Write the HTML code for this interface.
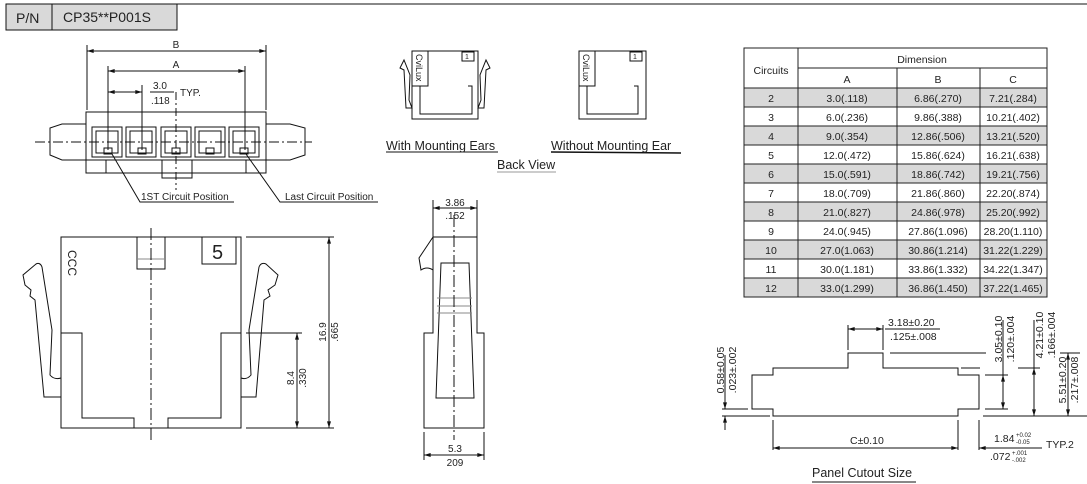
<!DOCTYPE html>
<html><head><meta charset="utf-8"><style>
html,body{margin:0;padding:0;background:#fff;}
svg{display:block;font-family:"Liberation Sans","DejaVu Sans",sans-serif;}
text{fill:#222;}
</style></head><body>
<svg width="1087" height="484" viewBox="0 0 1087 484" xmlns="http://www.w3.org/2000/svg">
<defs>
<marker id="a" viewBox="0 0 10 6" refX="10" refY="3" markerWidth="8" markerHeight="4" orient="auto-start-reverse" markerUnits="userSpaceOnUse"><path d="M0 0 L10 3 L0 6 Z" fill="#111"/></marker>
</defs>
<g stroke="#111" stroke-width="1" fill="none">
<rect x="6" y="4" width="46" height="26" fill="#d9d9d9"/>
<rect x="52" y="4" width="125" height="26" fill="#d9d9d9"/>
<line x1="177" y1="4" x2="1087" y2="4"/>
</g>
<text x="16" y="23" font-size="14">P/N</text>
<text x="63" y="22" font-size="14">CP35**P001S</text>

<!-- top view -->
<g stroke="#111" stroke-width="1" fill="none">
<line x1="87" y1="45" x2="87" y2="110"/><line x1="266" y1="45" x2="266" y2="110"/>
<line x1="87" y1="51" x2="266" y2="51" marker-start="url(#a)" marker-end="url(#a)"/>
<line x1="108" y1="66" x2="108" y2="150"/><line x1="245" y1="66" x2="245" y2="150"/>
<line x1="108" y1="71" x2="245" y2="71" marker-start="url(#a)" marker-end="url(#a)"/>
<line x1="142" y1="85" x2="142" y2="150"/>
<line x1="108" y1="92" x2="142" y2="92" marker-start="url(#a)" marker-end="url(#a)"/>
<line x1="150" y1="92" x2="174" y2="92"/>
<path d="M86 112 H266 V173 H86 Z"/>
<line x1="86" y1="160" x2="266" y2="160"/>
<line x1="106" y1="160" x2="106" y2="173"/><line x1="246" y1="160" x2="246" y2="173"/>
<rect x="162" y="160" width="30" height="18"/>
<rect x="92" y="127" width="30" height="30"/><rect x="96" y="131" width="22" height="22"/>
<rect x="126" y="127" width="30" height="30"/><rect x="130" y="131" width="22" height="22"/>
<rect x="161" y="127" width="30" height="30"/><rect x="165" y="131" width="22" height="22"/>
<rect x="195" y="127" width="30" height="30"/><rect x="199" y="131" width="22" height="22"/>
<rect x="229" y="127" width="30" height="30"/><rect x="233" y="131" width="22" height="22"/>
<rect x="104" y="148" width="8" height="6"/><rect x="138" y="148" width="8" height="6"/><rect x="172" y="148" width="8" height="6"/><rect x="206" y="148" width="8" height="6"/><rect x="240" y="148" width="8" height="6"/>
<path d="M86 124 H62 L50 128 V155 L62 160 H86"/>
<path d="M266 124 H290 L305 128 V155 L290 160 H266"/>
<line x1="35" y1="142" x2="312" y2="142" stroke-dasharray="10,3,2,3"/>
<line x1="176" y1="92" x2="176" y2="190" stroke-dasharray="8,3,2,3"/>
<path d="M112 154 L140 202 H234"/>
<path d="M246 154 L280 202 H378"/>
</g>
<text x="176" y="48" font-size="10" text-anchor="middle">B</text>
<text x="176" y="68" font-size="10" text-anchor="middle">A</text>
<text x="153" y="89" font-size="10">3.0</text>
<text x="151" y="104" font-size="10">.118</text>
<text x="180" y="96" font-size="10">TYP.</text>
<text x="141" y="200" font-size="10">1ST Circuit Position</text>
<text x="285" y="200" font-size="10">Last Circuit Position</text>

<!-- front view -->
<g stroke="#111" stroke-width="1" fill="none">
<path d="M61 237 H241 V428 H61 Z"/>
<path d="M61 333 H82 V418 H134 V428 M168 428 V418 H221 V333 H241"/>
<rect x="137" y="237" width="28" height="32"/>
<line x1="137" y1="259" x2="165" y2="259" stroke="#888"/>
<path d="M202 237 V264 H236 V237"/>
<line x1="151" y1="228" x2="151" y2="440" stroke-dasharray="12,3,2,3"/>
<path d="M61 397 H44 L35 300 L30 296 L31 290 L25 285 L23 275 L36 264 Q40 262 42 267 L52 330 L50 375 Q54 380 61 378"/>
<path d="M241 397 H256 L264 300 L270 296 L268 290 L275 285 L278 275 L266 264 Q261 262 259 267 L249 330 L251 375 Q247 380 241 378"/>
<line x1="246" y1="237" x2="334" y2="237"/><line x1="246" y1="428" x2="334" y2="428"/>
<line x1="246" y1="333" x2="302" y2="333"/>
<line x1="329" y1="237" x2="329" y2="428" marker-start="url(#a)" marker-end="url(#a)"/>
<line x1="297" y1="333" x2="297" y2="428" marker-start="url(#a)" marker-end="url(#a)"/>
</g>
<text x="0" y="0" font-size="12" transform="translate(68,250) rotate(90)">CCC</text>
<text x="212" y="259" font-size="20">5</text>
<text font-size="10" text-anchor="middle" transform="translate(326,332) rotate(-90)">16.9</text>
<text font-size="10" text-anchor="middle" transform="translate(338,332) rotate(-90)">.665</text>
<text font-size="10" text-anchor="middle" transform="translate(294,378) rotate(-90)">8.4</text>
<text font-size="10" text-anchor="middle" transform="translate(306,378) rotate(-90)">.330</text>

<!-- side view -->
<g stroke="#111" stroke-width="1" fill="none">
<path d="M433 237 H477 V333 H484 V428 H424 V333 H433 Z"/>
<path d="M433 237 L419 258 L421 270 Q427 266 433 270"/>
<path d="M441 263 H469 L474 398 H436 Z"/>
<line x1="437" y1="298" x2="472" y2="298" stroke="#888"/><line x1="437" y1="306" x2="472" y2="306" stroke="#888"/><line x1="437" y1="313" x2="472" y2="313" stroke="#888"/>
<line x1="433" y1="200" x2="433" y2="237"/><line x1="477" y1="200" x2="477" y2="237"/>
<line x1="433" y1="208" x2="477" y2="208" marker-start="url(#a)" marker-end="url(#a)"/>
<line x1="424" y1="432" x2="424" y2="460"/><line x1="484" y1="432" x2="484" y2="460"/>
<line x1="424" y1="455" x2="484" y2="455" marker-start="url(#a)" marker-end="url(#a)"/>
<line x1="454" y1="215" x2="454" y2="440" stroke-dasharray="12,3,2,3"/>
</g>
<text x="455" y="206" font-size="10" text-anchor="middle">3.86</text>
<text x="455" y="219" font-size="10" text-anchor="middle">.152</text>
<text x="455" y="452" font-size="10" text-anchor="middle">5.3</text>
<text x="455" y="466" font-size="10" text-anchor="middle">209</text>

<!-- back views -->
<g stroke="#111" stroke-width="1" fill="none">
<rect x="412" y="51" width="66" height="68"/>
<rect x="412" y="51" width="16" height="35"/>
<path d="M420 86 V114 H472 V86 H468"/>
<rect x="462" y="52" width="12" height="9"/>
<path d="M412 108 H406 L404 70 L400 68 L404 60 L410 75 L409 100 Z"/>
<path d="M478 108 H484 L486 70 L490 68 L486 60 L480 75 L481 100 Z"/>
<rect x="579" y="51" width="67" height="68"/>
<rect x="579" y="51" width="16" height="35"/>
<path d="M587 86 V114 H638 V86 H634"/>
<rect x="630" y="52" width="12" height="9"/>
<line x1="386" y1="152" x2="498" y2="152"/>
<line x1="551" y1="152" x2="681" y2="153" stroke-width="1.5"/>
<line x1="497" y1="172" x2="556" y2="172" stroke="#999"/>
</g>
<text font-size="9" transform="translate(416,54) rotate(90)">CviLux</text>
<text font-size="9" transform="translate(583,54) rotate(90)">CviLux</text>
<text x="465" y="59" font-size="7">1</text>
<text x="633" y="59" font-size="7">1</text>
<text x="386" y="150" font-size="12.5">With Mounting Ears</text>
<text x="551" y="150" font-size="12.5">Without Mounting Ear</text>
<text x="497" y="169" font-size="12.5">Back View</text>

<!-- table -->
<g fill="#d9d9d9">
<rect x="744" y="88" width="303" height="19"/>
<rect x="744" y="126" width="303" height="19"/>
<rect x="744" y="164" width="303" height="19"/>
<rect x="744" y="202" width="303" height="19"/>
<rect x="744" y="240" width="303" height="19"/>
<rect x="744" y="278" width="303" height="19"/>
</g>
<g stroke="#222" stroke-width="1" fill="none">
<rect x="744" y="48" width="303" height="249"/>
<line x1="798" y1="48" x2="798" y2="297"/>
<line x1="798" y1="68" x2="1047" y2="68"/>
<line x1="897" y1="68" x2="897" y2="297"/>
<line x1="980" y1="68" x2="980" y2="297"/>
<line x1="744" y1="88" x2="1047" y2="88"/>
<line x1="744" y1="107" x2="1047" y2="107"/><line x1="744" y1="126" x2="1047" y2="126"/>
<line x1="744" y1="145" x2="1047" y2="145"/><line x1="744" y1="164" x2="1047" y2="164"/>
<line x1="744" y1="183" x2="1047" y2="183"/><line x1="744" y1="202" x2="1047" y2="202"/>
<line x1="744" y1="221" x2="1047" y2="221"/><line x1="744" y1="240" x2="1047" y2="240"/>
<line x1="744" y1="259" x2="1047" y2="259"/><line x1="744" y1="278" x2="1047" y2="278"/>
</g>
<g font-size="10.5" text-anchor="middle">
<text x="771" y="74">Circuits</text>
<text x="922" y="63">Dimension</text>
<text x="847" y="83">A</text><text x="938" y="83">B</text><text x="1013" y="83">C</text>
<text x="771" y="102">2</text><text x="847" y="102">3.0(.118)</text><text x="938" y="102">6.86(.270)</text><text x="1013" y="102">7.21(.284)</text>
<text x="771" y="121">3</text><text x="847" y="121">6.0(.236)</text><text x="938" y="121">9.86(.388)</text><text x="1013" y="121">10.21(.402)</text>
<text x="771" y="140">4</text><text x="847" y="140">9.0(.354)</text><text x="938" y="140">12.86(.506)</text><text x="1013" y="140">13.21(.520)</text>
<text x="771" y="159">5</text><text x="847" y="159">12.0(.472)</text><text x="938" y="159">15.86(.624)</text><text x="1013" y="159">16.21(.638)</text>
<text x="771" y="178">6</text><text x="847" y="178">15.0(.591)</text><text x="938" y="178">18.86(.742)</text><text x="1013" y="178">19.21(.756)</text>
<text x="771" y="197">7</text><text x="847" y="197">18.0(.709)</text><text x="938" y="197">21.86(.860)</text><text x="1013" y="197">22.20(.874)</text>
<text x="771" y="216">8</text><text x="847" y="216">21.0(.827)</text><text x="938" y="216">24.86(.978)</text><text x="1013" y="216">25.20(.992)</text>
<text x="771" y="235">9</text><text x="847" y="235">24.0(.945)</text><text x="938" y="235">27.86(1.096)</text><text x="1013" y="235">28.20(1.110)</text>
<text x="771" y="254">10</text><text x="847" y="254">27.0(1.063)</text><text x="938" y="254">30.86(1.214)</text><text x="1013" y="254">31.22(1.229)</text>
<text x="771" y="273">11</text><text x="847" y="273">30.0(1.181)</text><text x="938" y="273">33.86(1.332)</text><text x="1013" y="273">34.22(1.347)</text>
<text x="771" y="292">12</text><text x="847" y="292">33.0(1.299)</text><text x="938" y="292">36.86(1.450)</text><text x="1013" y="292">37.22(1.465)</text>
</g>

<!-- panel cutout -->
<g stroke="#111" stroke-width="1" fill="none">
<path d="M752 409 V375 H773 V368 H848 V353 H883 V368 H958 V375 H979 V409 H958 V416 H773 V409 Z"/>
<line x1="848" y1="325" x2="848" y2="350"/><line x1="883" y1="325" x2="883" y2="350"/>
<line x1="848" y1="329" x2="883" y2="329" marker-start="url(#a)" marker-end="url(#a)"/><line x1="885" y1="329" x2="940" y2="329"/>
<line x1="890" y1="353" x2="986" y2="353"/>
<line x1="961" y1="368" x2="980" y2="368"/><line x1="985" y1="375" x2="1008" y2="375"/><line x1="985" y1="409" x2="1008" y2="409"/>
<line x1="1003" y1="320" x2="1003" y2="409"/>
<line x1="1003" y1="375" x2="1003" y2="409" marker-start="url(#a)" marker-end="url(#a)"/>
<line x1="1018" y1="368" x2="1040" y2="368"/><line x1="1034" y1="320" x2="1034" y2="416"/>
<line x1="1034" y1="368" x2="1034" y2="416" marker-start="url(#a)" marker-end="url(#a)"/>
<line x1="983" y1="416" x2="1087" y2="416"/>
<line x1="1060" y1="353" x2="1080" y2="353"/><line x1="1068" y1="353" x2="1068" y2="416" marker-start="url(#a)" marker-end="url(#a)"/>
<line x1="722" y1="409" x2="748" y2="409"/><line x1="722" y1="416" x2="770" y2="416"/>
<line x1="725" y1="355" x2="725" y2="409" marker-end="url(#a)"/>
<line x1="725" y1="430" x2="725" y2="416" marker-end="url(#a)"/>
<line x1="773" y1="420" x2="773" y2="450"/><line x1="958" y1="420" x2="958" y2="450"/><line x1="979" y1="420" x2="979" y2="450"/>
<line x1="773" y1="448" x2="958" y2="448" marker-start="url(#a)" marker-end="url(#a)"/>
<line x1="1042" y1="448" x2="979" y2="448" marker-end="url(#a)"/>
<line x1="812" y1="482" x2="916" y2="482"/>
</g>
<g font-size="10.5">
<text x="888" y="326">3.18±0.20</text>
<text x="890" y="340">.125±.008</text>
<text x="850" y="444">C±0.10</text>
<text x="994" y="442">1.84</text><text x="1016" y="437" font-size="6">+0.02</text><text x="1016" y="444" font-size="6">-0.05</text>
<text x="990" y="460">.072</text><text x="1012" y="455" font-size="6">+.001</text><text x="1012" y="462" font-size="6">-.002</text>
<text x="1046" y="448">TYP.2</text>
<text x="812" y="477" font-size="12.5">Panel Cutout Size</text>
</g>
<g font-size="10.5" text-anchor="middle">
<text transform="translate(724,370) rotate(-90)">0.58±0.05</text>
<text transform="translate(736,370) rotate(-90)">.023±.002</text>
<text transform="translate(1002,339) rotate(-90)">3.05±0.10</text>
<text transform="translate(1014,339) rotate(-90)">.120±.004</text>
<text transform="translate(1043,335) rotate(-90)">4.21±0.10</text>
<text transform="translate(1055,335) rotate(-90)">.166±.004</text>
<text transform="translate(1066,380) rotate(-90)">5.51±0.20</text>
<text transform="translate(1078,380) rotate(-90)">.217±.008</text>
</g>
</svg>
</body></html>
